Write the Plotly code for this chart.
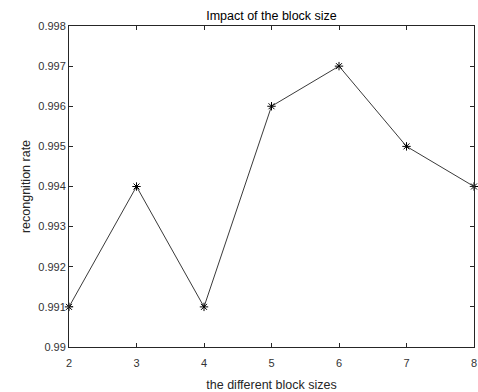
import plotly.graph_objects as go

block_sizes = [2, 3, 4, 5, 6, 7, 8]
recognition_rate = [0.991, 0.994, 0.991, 0.996, 0.997, 0.995, 0.994]
y_ticks = [0.99, 0.991, 0.992, 0.993, 0.994, 0.995, 0.996, 0.997, 0.998]
y_tick_labels = ["0.99", "0.991", "0.992", "0.993", "0.994", "0.995", "0.996", "0.997", "0.998"]

FONT = "Liberation Sans, Arial, sans-serif"

fig = go.Figure()
fig.add_trace(go.Scatter(
    x=block_sizes, y=recognition_rate, mode="lines+markers",
    line=dict(color="#3a3a3a", width=1),
    marker=dict(symbol="asterisk", size=7, color="black", line=dict(color="black", width=1)),
    cliponaxis=False, showlegend=False,
))

axis_common = dict(
    showgrid=False, zeroline=False, showline=True, linecolor="#262626", linewidth=1,
    mirror="ticks", ticks="inside", ticklen=4, tickcolor="#262626", automargin=False,
    tickfont=dict(family=FONT, size=11, color="#333333"),
)

fig.update_layout(
    width=478, height=392,
    margin=dict(l=69, r=4, t=26, b=45),
    paper_bgcolor="white", plot_bgcolor="white",
    title=dict(text="Impact of the block size", x=0.5, xanchor="center",
               xref="paper", y=1 - 16/392, yanchor="middle",
               font=dict(family=FONT, size=12.5, color="black")),
    xaxis=dict(range=[2, 8], tickvals=block_sizes, ticklabelstandoff=6, **axis_common,
               title=dict(text="the different block sizes", standoff=12,
                          font=dict(family=FONT, size=12.5, color="#262626"))),
    yaxis=dict(range=[0.99, 0.998], tickvals=y_ticks, ticktext=y_tick_labels, **axis_common,
               title=dict(text="recongnition rate", standoff=4,
                          font=dict(family=FONT, size=12.5, color="#262626"))),
)

fig.write_html("out.html", config={"displayModeBar": False},
               post_script="document.body.style.margin='0';document.body.style.overflow='hidden';")
